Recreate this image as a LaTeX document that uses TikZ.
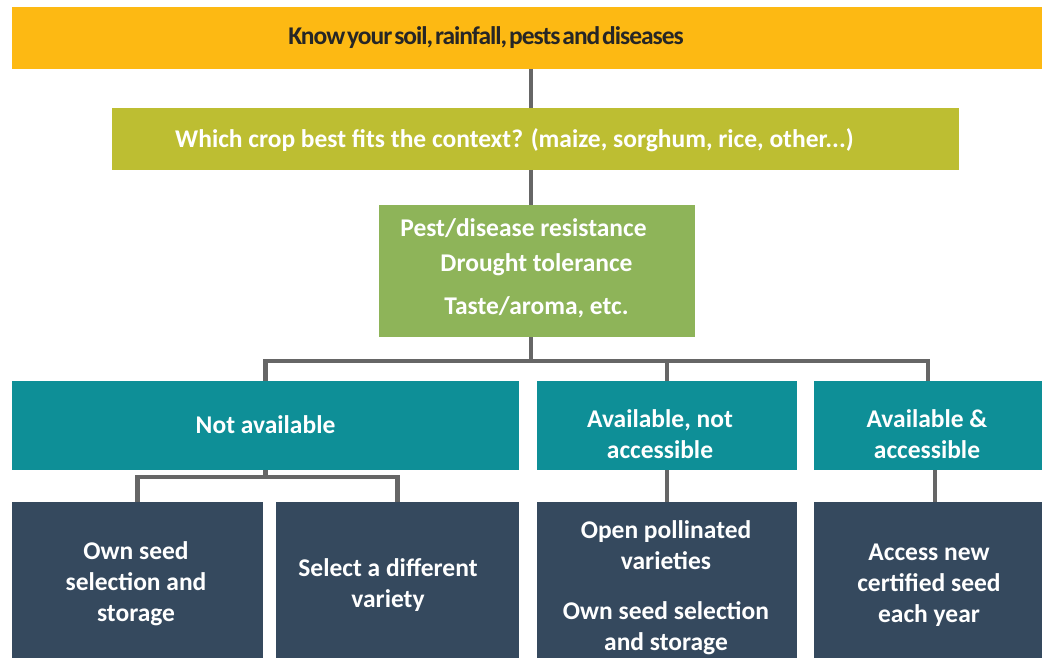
\documentclass[tikz,border=0pt]{standalone}
\usepackage{fontspec}
\setmainfont{Carlito}
\newfontfamily\headfont{Carlito}[LetterSpace=-4, WordSpace=0.4]
\usetikzlibrary{calc}
\definecolor{barorange}{RGB}{253,185,19}
\definecolor{cropolive}{RGB}{189,190,50}
\definecolor{traitgreen}{RGB}{142,180,89}
\definecolor{statusteal}{RGB}{14,143,151}
\definecolor{actionnavy}{RGB}{53,73,94}
\definecolor{linkgray}{RGB}{102,102,102}
\definecolor{headink}{RGB}{38,38,38}
\tikzset{
  panel/.style={draw=none, inner sep=0pt, outer sep=0pt},
  label/.style={font=\fontsize{25.5}{31}\selectfont\bfseries, text=white, align=center, inner sep=0pt},
  link/.style={draw=linkgray, line width=4.5pt},
}
\begin{document}
\begin{tikzpicture}[x=1pt,y=-1pt]
\useasboundingbox (0,0) rectangle (1042,658);
% boxes (pixel-like grid, y downwards)
\node[panel, fill=barorange, minimum width=1030pt, minimum height=62pt] (bar) at (527,38) {};
\node[panel, fill=cropolive, minimum width=847pt, minimum height=62pt] (crop) at (535.5,139) {};
\node[panel, fill=traitgreen, minimum width=316pt, minimum height=132pt] (traits) at (537,271) {};
\node[panel, fill=statusteal, minimum width=507pt, minimum height=89pt] (na) at (265.5,425.5) {};
\node[panel, fill=statusteal, minimum width=260pt, minimum height=89pt] (anc) at (667,425.5) {};
\node[panel, fill=statusteal, minimum width=228pt, minimum height=89pt] (aac) at (928,425.5) {};
\node[panel, fill=actionnavy, minimum width=251pt, minimum height=156pt] (own) at (137.5,580) {};
\node[panel, fill=actionnavy, minimum width=243pt, minimum height=156pt] (diff) at (397.5,580) {};
\node[panel, fill=actionnavy, minimum width=260pt, minimum height=156pt] (opv) at (667,580) {};
\node[panel, fill=actionnavy, minimum width=228pt, minimum height=156pt] (cert) at (928,580) {};
% texts
\node[label, text=headink, font=\fontsize{25.5}{31}\selectfont\headfont\bfseries] (bartext) at (486,38) {Know your soil, rainfall, pests and diseases};
\node[label] (croptext) at (514.5,140) {Which crop best fits the context? (maize, sorghum, rice, other...)};
\node[label] (t1) at (523.5,228) {Pest/disease resistance};
\node[label] (t2) at (536.5,265) {Drought tolerance};
\node[label] (t3) at (536.5,307) {Taste/aroma, etc.};
\node[label] (natext) at (265.5,425) {Not available};
\node[label] (anctext) at (660,434) {Available, not\\accessible};
\node[label] (aactext) at (927,434) {Available \&\\accessible};
\node[label] (owntext) at (136,584) {Own seed\\selection and\\storage};
\node[label] (difftext) at (388,585) {Select a different\\variety};
\node[label] (opvtext1) at (666,545.5) {Open pollinated\\varieties};
\node[label] (opvtext2) at (666,628) {Own seed selection\\and storage};
\node[label] (certtext) at (929,585) {Access new\\certified seed\\each year};
% connectors
\coordinate (trunk) at (531,0);
\coordinate (bus) at (0,361);
\coordinate (subbus) at (0,477);
\draw[link] (bar.south -| trunk) -- (crop.north -| trunk);
\draw[link] (crop.south -| trunk) -- (traits.north -| trunk);
\draw[link] (traits.south -| trunk) -- (bus -| trunk);
\draw[link] (na.north) -- (na.north |- bus) -| (aac.north);
\draw[link] (anc.north |- bus) -- (anc.north);
\draw[link] (na.south) -- (na.south |- subbus) -| (own.north);
\draw[link] (na.south |- subbus) -| (diff.north);
\draw[link] (anc.south) -- (opv.north);
\draw[link] ([xshift=7pt]aac.south) -- ([xshift=7pt]cert.north);
\end{tikzpicture}
\end{document}
